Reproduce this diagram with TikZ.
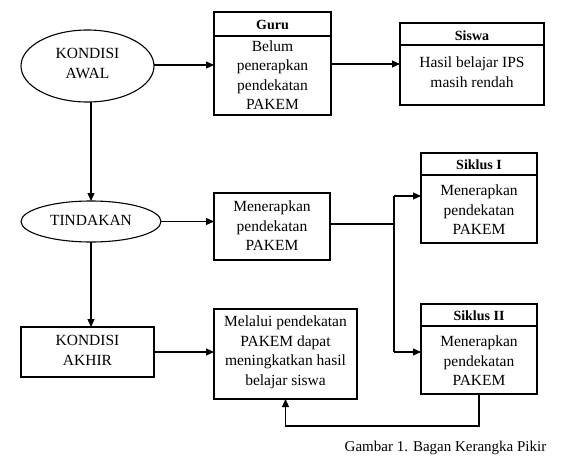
\documentclass[tikz,border=0pt]{standalone}
\usepackage{fontspec}
\setmainfont{LiberationSerif-Regular.ttf}[BoldFont=LiberationSerif-Bold.ttf]
\usetikzlibrary{shapes.geometric,arrows.meta}
\begin{document}
\begin{tikzpicture}[x=1pt,y=-1pt,
  every node/.style={inner sep=0pt, outer sep=0pt},
  body/.style={align=center, font=\fontsize{15.5}{19.5}\selectfont},
  head/.style={font=\fontsize{14}{17}\selectfont\bfseries},
  box/.style={draw, line width=1.1pt, rectangle},
  oval/.style={draw, line width=1.1pt, ellipse},
  ln/.style={line width=1.1pt},
  arr/.style={line width=1.1pt, -{Triangle[length=8pt,width=7pt]}}]
\useasboundingbox (0,0) rectangle (578,466);
% ellipses
\node[oval, minimum width=133, minimum height=72] (awal) at (87.5,66) {};
\node[body] (awalt) at (87.5,63.5) {KONDISI\\AWAL};
\node[oval, minimum width=140, minimum height=41] (tind) at (91,221.5) {};
\node[body] (tindt) at (91,220) {TINDAKAN};
% Guru
\node[box, minimum width=117, minimum height=103] (guru) at (272.5,63.5) {};
\draw[ln] (214,36) coordinate (gl) -- (gl -| guru.east);
\node[head] (gurut) at (272.5,24.5) {Guru};
\node[body] (gurub) at (272.5,75) {Belum\\penerapkan\\pendekatan\\PAKEM};
% Siswa
\node[box, minimum width=144, minimum height=82] (siswa) at (472,64) {};
\draw[ln] (400,45) coordinate (sl) -- (sl -| siswa.east);
\node[head] (siswat) at (472,35.5) {Siswa};
\node[body] (siswab) at (472,72) {Hasil belajar IPS\\masih rendah};
% middle box
\node[box, minimum width=116, minimum height=67] (mid) at (272,226.5) {};
\node[body] (midt) at (272,226) {Menerapkan\\pendekatan\\PAKEM};
% Siklus I
\node[box, minimum width=116, minimum height=90] (s1) at (479,198) {};
\draw[ln] (421,175) coordinate (s1l) -- (s1l -| s1.east);
\node[head] (s1t) at (479,164.5) {Siklus I};
\node[body] (s1b) at (479,210) {Menerapkan\\pendekatan\\PAKEM};
% Siklus II
\node[box, minimum width=116, minimum height=90] (s2) at (479,349) {};
\draw[ln] (421,326) coordinate (s2l) -- (s2l -| s2.east);
\node[head] (s2t) at (479,315.5) {Siklus II};
\node[body] (s2b) at (479,361) {Menerapkan\\pendekatan\\PAKEM};
% Kondisi akhir
\node[box, minimum width=133, minimum height=50] (akhir) at (87.5,352) {};
\node[body] (akhirt) at (87.5,350.5) {KONDISI\\AKHIR};
% Melalui
\node[box, minimum width=143, minimum height=90] (mel) at (285.5,354) {};
\node[body] (melt) at (285.5,352.5) {Melalui pendekatan\\PAKEM dapat\\meningkatkan hasil\\belajar siswa};
% caption
\node[font=\fontsize{15}{18}\selectfont] (cap) at (445.5,448) {Gambar 1. Bagan Kerangka Pikir};
% connectors
\coordinate (a1) at (awal.east |- 0,65);
\draw[arr] (a1) -- (a1 -| guru.west);
\coordinate (g1) at (guru.east |- 0,64);
\draw[arr] (g1) -- (g1 -| siswa.west);
\draw[arr] (tind.north |- awal.south) -- (tind.north);
\draw[arr] (tind.east) -- (tind.east -| mid.west);
\draw[arr] (tind.south) -- (tind.south |- akhir.north);
\draw[arr] (akhir.east) -- (akhir.east -| mel.west);
\coordinate (j0) at (394,224);
\coordinate (j1) at (394,196);
\coordinate (j2) at (394,352);
\draw[ln] (mid.east |- j0) -- (j0);
\draw[ln] (j1) -- (j2);
\draw[arr] (j1) -- (j1 -| s1.west);
\draw[arr] (j2) -- (j2 -| s2.west);
\coordinate (fb) at (479,426);
\draw[arr] (s2.south) -- (s2.south |- fb) -- (mel.south |- fb) -- (mel.south);
\end{tikzpicture}
\end{document}
